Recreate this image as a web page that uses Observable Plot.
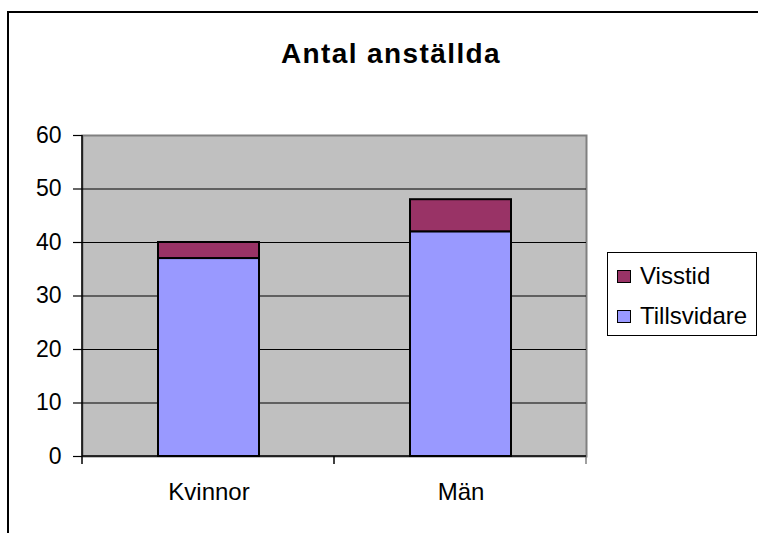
<!DOCTYPE html>
<html>
<head>
<meta charset="utf-8">
<script src="https://cdn.jsdelivr.net/npm/d3@7"></script>
<script src="https://cdn.jsdelivr.net/npm/@observablehq/plot@0.6"></script>
<style>
  html, body { margin: 0; padding: 0; background: #fff; }
  #wrap { position: relative; width: 758px; height: 533px; overflow: hidden; font-family: "Liberation Sans", Arial, sans-serif; }
  #border { position: absolute; left: 7px; top: 11px; width: 800px; height: 600px; border: 2px solid #000; box-sizing: border-box; }
  #title { position: absolute; left: 0; width: 782px; top: 38px; text-align: center; font-size: 28px; font-weight: bold; letter-spacing: 1.4px; color: #000; }
  #legend { position: absolute; left: 607px; top: 252px; width: 150px; height: 84px; border: 1px solid #000; box-sizing: border-box; background: #fff; }
  .item { position: absolute; left: 9px; display: flex; align-items: center; font-size: 24px; color: #000; }
  .sw { width: 12px; height: 11px; border: 1.5px solid #000; margin-right: 9px; }
  #plot { position: absolute; left: 0; top: 0; }
</style>
</head>
<body>
<div id="wrap">
  <div id="plot"></div>
  <div id="border"></div>
  <div id="title"></div>
  <div id="legend"></div>
</div>
<script>
const title = "Antal anställda";
const categories = ["Kvinnor", "Män"];
const series = ["Tillsvidare", "Visstid"];
const tillsvidare = [37, 42];
const visstid = [3, 6];
const yTicks = [0, 10, 20, 30, 40, 50, 60];
const colors = ["#9999FF", "#993366"];

const values = [tillsvidare, visstid];
const data = [];
series.forEach((s, i) => categories.forEach((c, j) => data.push({category: c, series: s, value: values[i][j]})));

document.getElementById("title").textContent = title;

const legend = document.getElementById("legend");
const legendOrder = [...series].reverse();
const legendTops = [9, 49];
legendOrder.forEach((s, i) => {
  const it = document.createElement("div");
  it.className = "item";
  it.style.top = legendTops[i] + "px";
  const sw = document.createElement("div");
  sw.className = "sw";
  sw.style.background = colors[series.indexOf(s)];
  const t = document.createElement("span");
  t.textContent = s;
  it.appendChild(sw); it.appendChild(t);
  legend.appendChild(it);
});

function axisDecor(index, scales, vals, dim) {
  const g = d3.create("svg:g");
  const x0 = dim.marginLeft, x1 = dim.width - dim.marginRight;
  const yb = dim.height - dim.marginBottom, yt = dim.marginTop;
  const n = categories.length;
  for (let i = 0; i <= n; i++) {
    const x = x0 + i * (x1 - x0) / n;
    g.append("line").attr("x1", x).attr("x2", x).attr("y1", yb).attr("y2", yb + 8)
      .attr("stroke", i === n ? "#808080" : "#000").attr("stroke-width", 1.5);
  }
  g.append("line").attr("x1", x0).attr("x2", x0).attr("y1", yt).attr("y2", yb)
    .attr("stroke", "#000").attr("stroke-width", 1.5);
  g.append("line").attr("x1", x0).attr("x2", x1).attr("y1", yb).attr("y2", yb)
    .attr("stroke", "#000").attr("stroke-width", 1.5);
  return g.node();
}

const chart = Plot.plot({
  width: 758,
  height: 533,
  marginLeft: 82,
  marginRight: 172,
  marginTop: 135,
  marginBottom: 77,
  style: {fontFamily: "'Liberation Sans', Arial, sans-serif", fontSize: "23px", color: "#000", background: "transparent"},
  x: {domain: categories, paddingInner: 0.6, paddingOuter: 0.3, label: null},
  y: {domain: [0, 60], ticks: yTicks, label: null},
  color: {domain: series, range: colors},
  marks: [
    Plot.frame({fill: "#c0c0c0", stroke: "#808080", strokeWidth: 2}),
    Plot.ruleY(yTicks.filter(d => d > 0 && d < 60), {stroke: "#000", strokeWidth: 1.2}),
    Plot.barY(data, {x: "category", y: "value", fill: "series", stroke: "#000", strokeWidth: 2}),
    axisDecor,
    Plot.axisY(yTicks, {tickSize: 9, tickPadding: 12, stroke: "#000", strokeWidth: 1.2, fontSize: 23, label: null}),
    Plot.axisX({tickSize: 0, tickPadding: 26, fontSize: 24, label: null})
  ]
});
document.getElementById("plot").appendChild(chart);
</script>
</body>
</html>
